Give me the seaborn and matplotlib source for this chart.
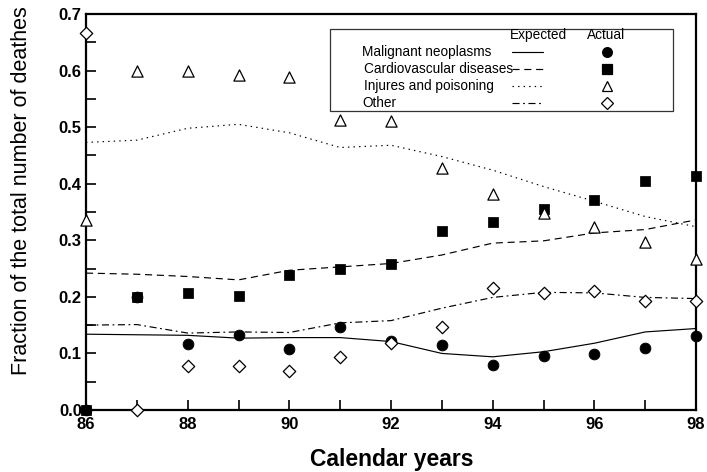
import matplotlib
matplotlib.use("Agg")
import matplotlib.pyplot as plt
from matplotlib.patches import Rectangle
from matplotlib.lines import Line2D
from matplotlib.ticker import MultipleLocator
import seaborn as sns
import pandas as pd

# data
years = list(range(86, 99))

# expected fractions (lines)
exp_malignant = [0.134, 0.133, 0.132, 0.127, 0.128, 0.128, 0.121, 0.100, 0.094, 0.103, 0.118, 0.138, 0.144]
exp_cardio = [0.242, 0.240, 0.236, 0.230, 0.247, 0.253, 0.259, 0.274, 0.295, 0.299, 0.313, 0.319, 0.336]
exp_injury = [0.473, 0.477, 0.498, 0.505, 0.490, 0.464, 0.468, 0.448, 0.424, 0.395, 0.369, 0.342, 0.324]
exp_other = [0.150, 0.151, 0.136, 0.138, 0.137, 0.154, 0.158, 0.180, 0.199, 0.208, 0.207, 0.199, 0.197]

# actual fractions (markers)
act_malignant = [0.0, 0.200, 0.117, 0.132, 0.108, 0.147, 0.122, 0.115, 0.079, 0.095, 0.099, 0.110, 0.131]
act_cardio = [0.0, 0.200, 0.207, 0.202, 0.239, 0.249, 0.258, 0.316, 0.332, 0.355, 0.371, 0.405, 0.414]
act_injury = [0.335, 0.600, 0.600, 0.592, 0.589, 0.513, 0.510, 0.427, 0.381, 0.349, 0.324, 0.297, 0.267]
act_other = [0.667, 0.0, 0.078, 0.078, 0.069, 0.094, 0.118, 0.147, 0.216, 0.206, 0.210, 0.192, 0.193]

causes = ["Malignant neoplasms", "Cardiovascular diseases", "Injures and poisoning", "Other"]

sns.set_style("ticks")
plt.rcParams['font.family'] = ['Liberation Sans', 'DejaVu Sans']
plt.rcParams.update({'text.color': 'black', 'axes.labelcolor': 'black',
                     'xtick.color': 'black', 'ytick.color': 'black', 'axes.edgecolor': 'black'})

fig = plt.figure(figsize=(7.07, 4.72), dpi=100)
ax = fig.add_axes([86/707, 62/472, 610/707, 396/472])

expected = pd.DataFrame({'year': years, causes[0]: exp_malignant, causes[1]: exp_cardio,
                         causes[2]: exp_injury, causes[3]: exp_other})
actual = pd.DataFrame({'year': years, causes[0]: act_malignant, causes[1]: act_cardio,
                       causes[2]: act_injury, causes[3]: act_other})

line_styles = {causes[0]: '-', causes[1]: (0, (6, 4)), causes[2]: (0, (1.2, 3.5)),
               causes[3]: (0, (6, 3, 1.5, 3))}
mark_styles = {causes[0]: dict(marker='o', s=60, color='black', edgecolor='black'),
               causes[1]: dict(marker='s', s=45, color='black', edgecolor='black'),
               causes[2]: dict(marker='^', s=65, color='white', edgecolor='black', linewidth=0.9),
               causes[3]: dict(marker='D', s=40, color='white', edgecolor='black', linewidth=0.9)}
mark_order = {causes[1]: 3, causes[0]: 4, causes[2]: 5, causes[3]: 6}

for c in causes:
    sns.lineplot(data=expected, x='year', y=c, ax=ax, color='black', lw=0.85,
                 linestyle=line_styles[c], zorder=2)
for c in causes:
    sns.scatterplot(data=actual, x='year', y=c, ax=ax, clip_on=False, zorder=mark_order[c],
                    **mark_styles[c])

ax.set_xlim(86, 98)
ax.set_ylim(0, 0.7)
ax.xaxis.set_major_locator(MultipleLocator(2))
ax.xaxis.set_minor_locator(MultipleLocator(1))
ax.yaxis.set_minor_locator(MultipleLocator(0.05))
ax.set_yticks([0, 0.1, 0.2, 0.3, 0.4, 0.5, 0.6, 0.7],
              ["0.0", "0.1", "0.2", "0.3", "0.4", "0.5", "0.6", "0.7"])
ax.tick_params(which='both', direction='in', length=7, width=1.2, top=False, right=False)
ax.tick_params(which='major', labelsize=12)
ax.tick_params(axis='x', which='major', pad=5)
ax.tick_params(axis='y', which='major', pad=3)
for lab in ax.get_xticklabels() + ax.get_yticklabels():
    lab.set_fontweight('bold')
for sp in ax.spines.values():
    sp.set_linewidth(1.6)
    sp.set_visible(True)

ax.set_xlabel("Calendar years", fontsize=16.5, fontweight='bold', va='center')
ax.set_ylabel("Fraction of the total number of deathes", fontsize=15.5, va='center')
ax.xaxis.set_label_coords(0.502, -0.124)
ax.yaxis.set_label_coords(-0.105, 0.553)

# hand-made legend box with Expected / Actual columns
ax.add_patch(Rectangle((330/707, 361/472), 343/707, 82/472, transform=fig.transFigure,
                       fill=False, edgecolor='#333333', lw=0.9, zorder=10))
fig.text(510/707, 437/472, "Expected", fontsize=9.8, va='center', ha='left')
fig.text(587/707, 437/472, "Actual", fontsize=9.8, va='center', ha='left')
row_y = [420, 403, 386, 369]
label_x = [362, 364, 364, 362]
for c, ry, lx in zip(causes, row_y, label_x):
    fig.text(lx/707, ry/472, c, fontsize=9.8, va='center', ha='left')
    fig.add_artist(Line2D([512/707, 543/707], [ry/472, ry/472], transform=fig.transFigure,
                          color='black', lw=0.85, linestyle=line_styles[c]))
    ms = mark_styles[c]
    fig.add_artist(Line2D([607/707], [ry/472], transform=fig.transFigure, marker=ms['marker'],
                          markersize=7 if ms['marker'] != 'D' else 6, linestyle='none',
                          markerfacecolor=ms['color'], markeredgecolor='black', markeredgewidth=0.9))

fig.savefig("out.png", dpi=100)
